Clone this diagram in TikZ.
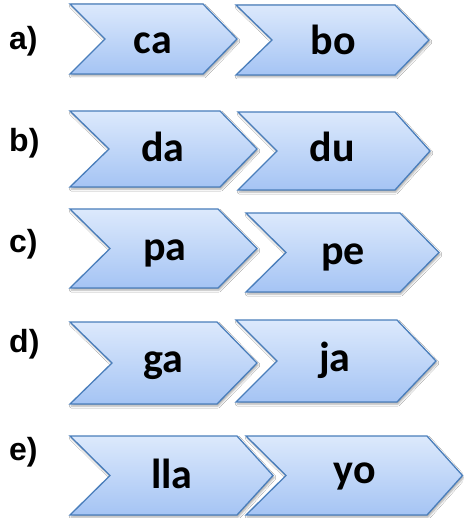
\documentclass[tikz,border=0pt]{standalone}
\usepackage{fontspec}
\setmainfont{Carlito}
\newfontfamily\labelfont{Liberation Sans}
\usetikzlibrary{shadows.blur}
\definecolor{chevtop}{HTML}{DCE9FC}
\definecolor{chevbot}{HTML}{A5C4F4}
\definecolor{chevline}{HTML}{4A7EBB}
\tikzset{
  chevron/.style={draw=chevline, line width=1.3pt, line join=miter,
    top color=chevtop, bottom color=chevbot,
    blur shadow={shadow xshift=1.2pt, shadow yshift=-2pt, shadow blur radius=2pt, shadow opacity=35}},
  chevtext/.style={anchor=base, inner sep=0pt, font=\bfseries\fontsize{42}{50}\selectfont},
  rowlabel/.style={anchor=base west, inner sep=0pt, font=\labelfont\bfseries\fontsize{32}{38}\selectfont}
}
% #1 name, #2 x0, #3 ytop, #4 xnotch, #5 xtopright, #6 xtip, #7 ybottom
\newcommand\chev[7]{%
  \path[chevron] (#2,#3) -- (#5,#3) -- (#6,{(#3+#7)/2}) -- (#5,#7) -- (#2,#7) -- (#4,{(#3+#7)/2}) -- cycle;
  \coordinate (#1) at ({(#4+#6)/2},{(#3+#7)/2});
}
\begin{document}
\begin{tikzpicture}[x=1pt,y=-1pt]
\useasboundingbox (0,0) rectangle (463,518);
\fill[white] (0,0) rectangle (463,518);
% row a
\chev{a1}{70}{4}{105}{203}{237}{74}
\chev{a2}{236}{5}{272}{395}{429}{75}
% row b
\chev{b1}{70}{111}{109}{220}{257}{187}
\chev{b2}{238}{112}{277}{395}{430}{190}
% row c
\chev{c1}{70}{209}{110}{218}{257}{288}
\chev{c2}{246}{213}{286}{400}{439}{292}
% row d
\chev{d1}{70}{322}{112}{217}{257}{404}
\chev{d2}{236}{320}{277}{397}{436}{402}
% row e
\chev{e1}{70}{436}{110}{237}{273}{515}
\chev{e2}{246}{436}{286}{427}{462.5}{515}
% texts
\node[chevtext] (ta1) at (153,54) {ca};
\node[chevtext] (ta2) at (333,55) {bo};
\node[chevtext] (tb1) at (163,162) {da};
\node[chevtext] (tb2) at (332,162) {du};
\node[chevtext] (tc1) at (165,260) {pa};
\node[chevtext] (tc2) at (343,264) {pe};
\node[chevtext] (td1) at (163,372) {ga};
\node[chevtext] (td2) at (335,371) {ja};
\node[chevtext] (te1) at (172,488) {lla};
\node[chevtext] (te2) at (355,483) {yo};
% labels
\node[rowlabel] (la) at (9,50) {a)};
\node[rowlabel] (lb) at (9,152) {b)};
\node[rowlabel] (lc) at (9,252) {c)};
\node[rowlabel] (ld) at (9,352) {d)};
\node[rowlabel] (le) at (9,460) {e)};
\end{tikzpicture}
\end{document}
